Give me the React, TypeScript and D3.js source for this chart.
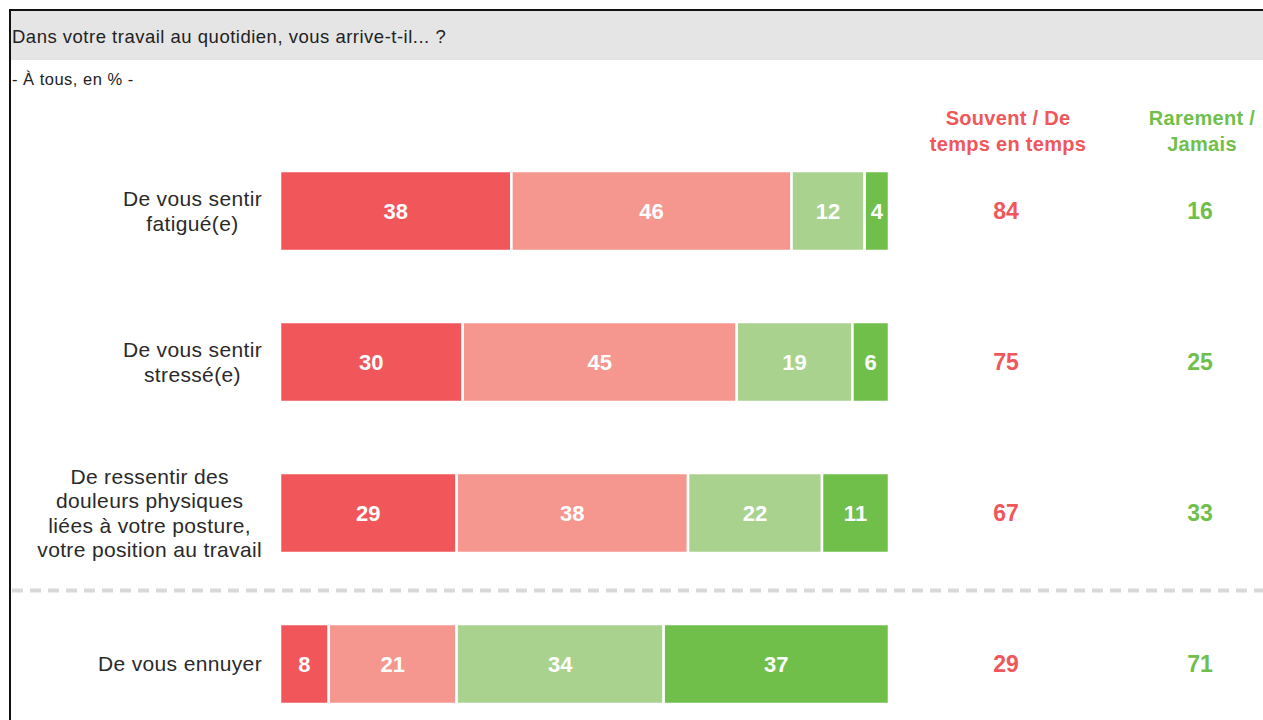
import * as d3 from "d3";
import React, { useEffect, useRef } from "react";

const categories = [
  ["De vous sentir", "fatigué(e)"],
  ["De vous sentir", "stressé(e)"],
  ["De ressentir des", "douleurs physiques", "liées à votre posture,", "votre position au travail"],
  ["De vous ennuyer"],
];
const souventVal = [38, 30, 29, 8];
const tempsVal = [46, 45, 38, 21];
const rarementVal = [12, 19, 22, 34];
const jamaisVal = [4, 6, 11, 37];
const totalSouvent = [84, 75, 67, 29];
const totalRarement = [16, 25, 33, 71];
const seriesColors = ["#f0565a", "#f5978e", "#a9d28e", "#71bf4b"];
const RED = "#f0565a";
const GREEN = "#71bf4b";

const FONT = "Liberation Sans, Arial, sans-serif";

const App = () => {
  const svgRef = useRef<SVGSVGElement>(null);

  useEffect(() => {
    const svg = d3.select(svgRef.current);
    svg.selectAll("*").remove();
    const width = 1263;
    const height = 720;

    // frame + title band
    svg.append("rect").attr("x", 10).attr("y", 10).attr("width", width).attr("height", height)
      .attr("fill", "#fff").attr("stroke", "#111").attr("stroke-width", 2);
    svg.append("rect").attr("x", 11).attr("y", 11).attr("width", width).attr("height", 49).attr("fill", "#e5e5e5");
    svg.append("text").attr("x", 12).attr("y", 43).attr("font-family", FONT).attr("font-size", 18.5)
      .attr("letter-spacing", 0.5).attr("fill", "#222").text("Dans votre travail au quotidien, vous arrive-t-il... ?");
    svg.append("text").attr("x", 12).attr("y", 85).attr("font-family", FONT).attr("font-size", 16.5)
      .attr("letter-spacing", 0.5).attr("fill", "#222").text("- À tous, en % -");

    const keys = categories.map((c) => c.join(" "));
    const x = d3.scaleLinear().domain([0, 100]).range([280, 889]);
    const y = d3.scalePoint<string>().domain(keys).range([211, 664]);
    const barH = 80;

    const rows = keys.map((k, i) => {
      const vals = [souventVal[i], tempsVal[i], rarementVal[i], jamaisVal[i]];
      let acc = 0;
      return vals.map((v, j) => {
        const seg = { key: k, start: acc, value: v, color: seriesColors[j] };
        acc += v;
        return seg;
      });
    });

    // separator between the 3rd and 4th row
    const sepY = ((y(keys[2]) as number) + (y(keys[3]) as number)) / 2 + 2;
    svg.append("line").attr("x1", 12).attr("x2", width).attr("y1", sepY).attr("y2", sepY)
      .attr("stroke", "#d9d9d9").attr("stroke-width", 4).attr("stroke-dasharray", "11,7");

    const g = svg.append("g");
    rows.forEach((segs) => {
      const cy = y(segs[0].key) as number;
      const sg = g.selectAll(null).data(segs).enter().append("g");
      sg.append("rect")
        .attr("x", (d) => x(d.start))
        .attr("y", cy - barH / 2)
        .attr("width", (d) => x(d.start + d.value) - x(d.start))
        .attr("height", barH)
        .attr("fill", (d) => d.color)
        .attr("stroke", "#fff")
        .attr("stroke-width", 2.5);
      sg.append("text")
        .attr("x", (d) => x(d.start + d.value / 2))
        .attr("y", cy)
        .attr("dy", "0.36em")
        .attr("text-anchor", "middle")
        .attr("font-family", FONT)
        .attr("font-weight", "bold")
        .attr("font-size", 22)
        .attr("fill", "#fff")
        .text((d) => d.value);
    });

    // category labels: lines centred inside a block aligned right
    categories.forEach((lines, i) => {
      const cy = y(keys[i]) as number;
      const lh = 24.3;
      const t = svg.append("text").attr("font-family", FONT).attr("font-size", 21).attr("fill", "#2a2a2a")
        .attr("letter-spacing", 0.35).attr("text-anchor", "middle");
      const spans = lines.map((l, j) =>
        t.append("tspan").attr("y", cy + (j - (lines.length - 1) / 2) * lh).attr("dy", "0.35em").text(l)
      );
      const maxW = d3.max(spans, (s) => (s.node() as SVGTSpanElement).getComputedTextLength()) || 0;
      spans.forEach((s) => s.attr("x", 262 - maxW / 2));
    });

    // summary columns
    const cols = [
      { cx: 1008, title: ["Souvent / De", "temps en temps"], vals: totalSouvent, color: RED },
      { cx: 1202, title: ["Rarement /", "Jamais"], vals: totalRarement, color: GREEN },
    ];
    cols.forEach((c) => {
      const t = svg.append("text").attr("font-family", FONT).attr("font-size", 20).attr("font-weight", "bold")
        .attr("letter-spacing", 0.3).attr("fill", c.color).attr("text-anchor", "middle");
      c.title.forEach((l, j) => t.append("tspan").attr("x", c.cx).attr("y", 125 + j * 26).text(l));
      keys.forEach((k, i) => {
        svg.append("text").attr("x", c.cx - 2).attr("y", y(k) as number).attr("dy", "0.36em")
          .attr("text-anchor", "middle").attr("font-family", FONT).attr("font-weight", "bold")
          .attr("font-size", 23).attr("fill", c.color).text(c.vals[i]);
      });
    });
  }, []);

  return (
    <svg
      ref={svgRef}
      width={1263}
      height={720}
      style={{ position: "absolute", left: 0, top: 0, background: "#fff" }}
    ></svg>
  );
};

export default App;
